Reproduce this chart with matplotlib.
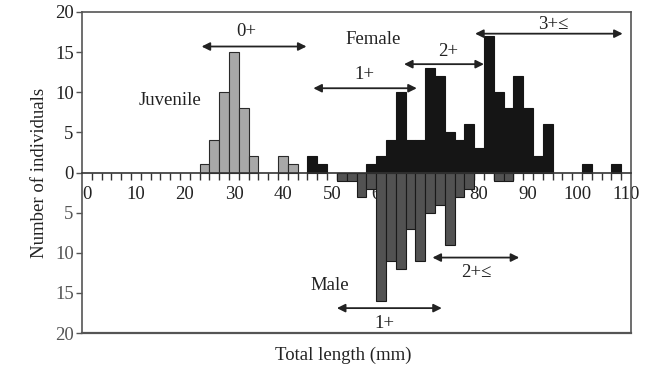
import matplotlib
matplotlib.use("Agg")
import matplotlib.pyplot as plt
import numpy as np

plt.rcParams['font.family'] = ['Liberation Serif', 'DejaVu Serif']

# ---- data (bin centres in mm, bin width 2 mm) ----
juv_len = [24, 26, 28, 30, 32, 34, 40, 42]
juv_n = [1, 4, 10, 15, 8, 2, 2, 1]

fem_len = [46, 48, 58, 60, 62, 64, 66, 68, 70, 72, 74, 76, 78, 80, 82, 84, 86, 88,
           90, 92, 94, 102, 108]
fem_n = [2, 1, 1, 2, 4, 10, 4, 4, 13, 12, 5, 4, 6, 3, 17, 10, 8, 12,
         8, 2, 6, 1, 1]

male_len = [52, 54, 56, 58, 60, 62, 64, 66, 68, 70, 72, 74, 76, 78, 84, 86]
male_n = [1, 1, 3, 2, 16, 11, 12, 7, 11, 5, 4, 9, 3, 2, 1, 1]

x_labels = [0, 10, 20, 30, 40, 50, 60, 70, 80, 90, 100, 110]
y_ticks = [-20, -15, -10, -5, 0, 5, 10, 15, 20]

BIN = 2
FS = 13.5

fig = plt.figure(figsize=(6.54, 3.69), dpi=100)
ax = fig.add_axes([82/654, 1-333/369, (631-82)/654, (333-12)/369])

ax.bar(juv_len, juv_n, width=BIN, color='#a8a8a8', edgecolor='#2a2a2a', linewidth=0.8, zorder=2)
ax.bar(fem_len, fem_n, width=BIN, color='#151515', edgecolor='#151515', linewidth=0.8, zorder=2)
ax.bar(male_len, [-v for v in male_n], width=BIN, color='#525252', edgecolor='#1a1a1a',
       linewidth=0.8, zorder=2)

ax.set_xlim(-1, 111)
ax.set_ylim(-20, 20)

# frame
for s in ['top', 'left', 'right']:
    ax.spines[s].set_color('#555555')
    ax.spines[s].set_linewidth(1.2)
ax.spines['bottom'].set_position(('data', 0))
ax.spines['bottom'].set_color('#333333')
ax.spines['bottom'].set_linewidth(1.2)
ax.spines['bottom'].set_zorder(3)
ax.plot([0, 1], [0, 0], transform=ax.transAxes, color='#555555', lw=1.6, clip_on=False)

# x ticks: marks between bins (odd mm), labels at even tens
ax.set_xticks(np.arange(1, 111, 2))
ax.set_xticklabels([])
ax.tick_params(axis='x', which='major', direction='out', length=5, width=1, color='#333333')
ax.set_xticks(x_labels, minor=True)
ax.set_xticklabels([str(v) for v in x_labels], minor=True, fontsize=FS, color='#222222')
ax.tick_params(axis='x', which='minor', length=0, pad=10)

ax.set_yticks(y_ticks)
ax.set_yticklabels([str(abs(v)) for v in y_ticks], fontsize=FS)
ax.tick_params(axis='y', direction='out', length=4, width=1, color='#555555', pad=2)
for v, lab in zip(y_ticks, ax.get_yticklabels()):
    lab.set_color('#222222' if v >= 0 else '#555555')

ax.set_ylabel('Number of individuals', fontsize=FS, color='#222222', labelpad=5)
fig.text(343/654, 1-355/369, 'Total length (mm)', fontsize=FS, color='#222222',
         ha='center', va='center')

# annotations
def dbl_arrow(x0, x1, y):
    ax.annotate('', xy=(x1, y), xytext=(x0, y),
                arrowprops=dict(arrowstyle='<|-|>', mutation_scale=12, lw=1.3,
                                color='#222222', shrinkA=0, shrinkB=0))

txt = dict(fontsize=FS, color='#222222', ha='center', va='center')
ax.text(17.0, 9.0, 'Juvenile', **txt)
ax.text(32.6, 17.6, '0+', **txt)
dbl_arrow(23.4, 44.8, 15.7)
ax.text(58.4, 16.6, 'Female', **txt)
ax.text(56.7, 12.15, '1+', **txt)
dbl_arrow(46.2, 67.3, 10.5)
ax.text(73.7, 15.05, '2+', **txt)
dbl_arrow(64.7, 81.0, 13.5)
ax.text(95.1, 18.5, '3+≤', **txt)
dbl_arrow(79.2, 109.3, 17.3)

ax.text(49.5, -14.1, 'Male', **txt)
ax.text(79.5, -12.4, '2+≤', **txt)
dbl_arrow(70.5, 88.2, -10.6)
ax.text(60.8, -18.8, '1+', **txt)
dbl_arrow(51.0, 72.4, -16.9)

fig.savefig('out.png', dpi=100)
